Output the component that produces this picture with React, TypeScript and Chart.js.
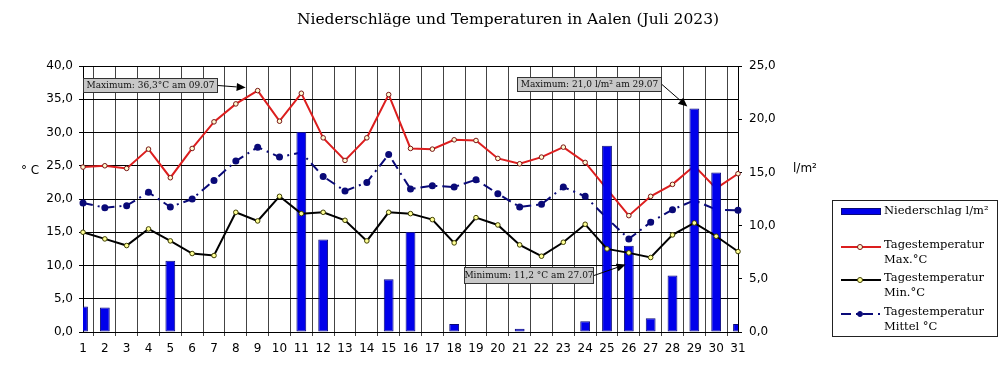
import React, { useEffect, useRef } from 'react';
import { Chart, registerables } from 'chart.js';

Chart.register(...registerables);

const days = ['1','2','3','4','5','6','7','8','9','10','11','12','13','14','15','16','17','18','19','20','21','22','23','24','25','26','27','28','29','30','31'];

const precipitation = [2.4, 2.3, 0, 0, 6.7, 0, 0, 0, 0, 0, 18.8, 8.7, 0, 0, 4.95, 9.4, 0, 0.75, 0, 0, 0.3, 0, 0, 1.0, 17.5, 8.1, 1.3, 5.3, 21.0, 15.0, 0.75];

const maxTemp = [24.8, 25.0, 24.6, 27.5, 23.2, 27.6, 31.6, 34.3, 36.3, 31.7, 35.9, 29.2, 25.8, 29.2, 35.7, 27.6, 27.5, 28.9, 28.8, 26.1, 25.3, 26.3, 27.8, 25.5, 21.5, 17.5, 20.4, 22.2, 25.0, 21.6, 23.8];

const minTemp = [15.0, 14.0, 13.0, 15.5, 13.7, 11.8, 11.5, 18.0, 16.7, 20.4, 17.8, 18.0, 16.8, 13.7, 18.0, 17.8, 16.9, 13.4, 17.2, 16.1, 13.1, 11.4, 13.5, 16.2, 12.5, 11.9, 11.2, 14.6, 16.4, 14.4, 12.1];

const meanTemp = [19.4, 18.7, 19.0, 21.0, 18.8, 20.0, 22.8, 25.7, 27.8, 26.3, 27.0, 23.4, 21.2, 22.5, 26.7, 21.5, 22.0, 21.8, 22.9, 20.8, 18.8, 19.2, 21.8, 20.4, 17.1, 14.0, 16.5, 18.4, 19.8, 18.4, 18.3];

const title = 'Niederschläge und Temperaturen in Aalen (Juli 2023)';
const leftAxisTitle = '° C';
const rightAxisTitle = 'l/m²';
const legendLabels = [
  ['Niederschlag l/m²'],
  ['Tagestemperatur', 'Max.°C'],
  ['Tagestemperatur', 'Min.°C'],
  ['Tagestemperatur', 'Mittel °C'],
];
const annMaxTemp = 'Maximum: 36,3°C am 09.07';
const annMaxRain = 'Maximum: 21,0 l/m² am 29.07';
const annMinTemp = 'Minimum: 11,2 °C am 27.07';

const SANS = '"DejaVu Sans", sans-serif';
const SERIF = '"DejaVu Serif", serif';

const RED = 'rgb(220,30,30)';
const NAVY = 'rgb(10,10,120)';
const BLUE = 'rgb(0,0,235)';
const MEAN_DASH = [10, 5, 2, 5];

function drawArrow(ctx: CanvasRenderingContext2D, x1: number, y1: number, x2: number, y2: number) {
  const ang = Math.atan2(y2 - y1, x2 - x1);
  const hl = 9, hw = 4;
  ctx.save();
  ctx.strokeStyle = '#000';
  ctx.fillStyle = '#000';
  ctx.lineWidth = 1;
  ctx.beginPath();
  ctx.moveTo(x1, y1);
  ctx.lineTo(x2 - hl * Math.cos(ang), y2 - hl * Math.sin(ang));
  ctx.stroke();
  ctx.beginPath();
  ctx.moveTo(x2, y2);
  ctx.lineTo(x2 - hl * Math.cos(ang) + hw * Math.sin(ang), y2 - hl * Math.sin(ang) - hw * Math.cos(ang));
  ctx.lineTo(x2 - hl * Math.cos(ang) - hw * Math.sin(ang), y2 - hl * Math.sin(ang) + hw * Math.cos(ang));
  ctx.closePath();
  ctx.fill();
  ctx.restore();
}

function drawBox(ctx: CanvasRenderingContext2D, x: number, y: number, w: number, h: number, text: string) {
  ctx.save();
  ctx.fillStyle = 'rgb(200,200,200)';
  ctx.fillRect(x, y, w, h);
  ctx.strokeStyle = '#333';
  ctx.lineWidth = 1;
  ctx.strokeRect(x + 0.5, y + 0.5, w - 1, h - 1);
  ctx.fillStyle = '#111';
  ctx.font = '9px ' + SERIF;
  ctx.textAlign = 'center';
  ctx.textBaseline = 'middle';
  ctx.fillText(text, x + w / 2, y + h / 2 + 0.5);
  ctx.restore();
}

const decorPlugin = {
  id: 'decor',
  afterDatasetsDraw(chart: any) {
    const ctx: CanvasRenderingContext2D = chart.ctx;
    const area = chart.chartArea;
    const xs = chart.scales.x;
    const yT = chart.scales.y;
    const yR = chart.scales.y1;

    const b1 = { x: area.left, y: area.top + 12, w: 135, h: 15 };
    drawBox(ctx, b1.x, b1.y, b1.w, b1.h, annMaxTemp);
    drawArrow(ctx, b1.x + b1.w, b1.y + b1.h / 2, xs.getPixelForValue(8) - 12, yT.getPixelForValue(maxTemp[8]) - 3);

    const b2 = { x: 517, y: area.top + 11, w: 145, h: 15 };
    drawBox(ctx, b2.x, b2.y, b2.w, b2.h, annMaxRain);
    drawArrow(ctx, b2.x + b2.w, b2.y + b2.h / 2, xs.getPixelForValue(28) - 7, yR.getPixelForValue(precipitation[28]) - 2);

    const b3 = { x: 464, y: 267, w: 130, h: 17 };
    drawBox(ctx, b3.x, b3.y, b3.w, b3.h, annMinTemp);
    drawArrow(ctx, b3.x + b3.w, b3.y + b3.h / 2, xs.getPixelForValue(26) - 25, yT.getPixelForValue(minTemp[26]) + 7);
  },
  afterDraw(chart: any) {
    const ctx: CanvasRenderingContext2D = chart.ctx;
    ctx.save();
    ctx.fillStyle = '#000';
    ctx.font = '15.5px ' + SERIF;
    ctx.textAlign = 'center';
    ctx.textBaseline = 'middle';
    ctx.fillText(title, 508, 20);

    ctx.font = '12px ' + SANS;
    ctx.textAlign = 'left';
    ctx.fillText(leftAxisTitle, 21, 171);
    ctx.fillText(rightAxisTitle, 793, 169);

    const lx = 832, ly = 200, lw = 166, lh = 137;
    ctx.strokeStyle = '#222';
    ctx.lineWidth = 1;
    ctx.strokeRect(lx + 0.5, ly + 0.5, lw - 1, lh - 1);

    ctx.font = '11.5px ' + SERIF;
    ctx.textBaseline = 'middle';
    const sx1 = 841, sx2 = 881, tx = 884;

    ctx.fillStyle = BLUE;
    ctx.fillRect(sx1, 209, sx2 - sx1, 5);
    ctx.strokeStyle = NAVY;
    ctx.strokeRect(sx1 + 0.5, 208.5, sx2 - sx1 - 1, 6);
    ctx.fillStyle = '#000';
    ctx.fillText(legendLabels[0][0], tx, 211);

    const rows = [
      { y: 247, color: RED, dash: [] as number[], fill: 'rgb(255,250,210)', border: 'rgb(120,20,20)', labels: legendLabels[1] },
      { y: 280, color: '#000', dash: [] as number[], fill: 'rgb(255,255,150)', border: 'rgb(60,60,0)', labels: legendLabels[2] },
      { y: 314, color: NAVY, dash: MEAN_DASH, fill: NAVY, border: NAVY, labels: legendLabels[3] },
    ];
    rows.forEach((r) => {
      ctx.save();
      ctx.strokeStyle = r.color;
      ctx.lineWidth = 2;
      ctx.setLineDash(r.dash);
      ctx.beginPath();
      ctx.moveTo(sx1, r.y);
      ctx.lineTo(sx2, r.y);
      ctx.stroke();
      ctx.setLineDash([]);
      ctx.fillStyle = r.fill;
      ctx.strokeStyle = r.border;
      ctx.lineWidth = 1;
      ctx.beginPath();
      ctx.arc(860, r.y, 2.5, 0, Math.PI * 2);
      ctx.fill();
      ctx.stroke();
      ctx.restore();
      ctx.fillStyle = '#000';
      ctx.fillText(r.labels[0], tx, r.y - 2);
      ctx.fillText(r.labels[1], tx, r.y + 13);
    });
    ctx.restore();
  },
};

export default function App() {
  const ref = useRef<HTMLCanvasElement | null>(null);
  useEffect(() => {
    document.body.style.margin = '0';
    const canvas = ref.current!;
    const chart = new Chart(canvas, {
      type: 'bar',
      data: {
        labels: days,
        datasets: [
          {
            type: 'line',
            label: 'Tagestemperatur Max.°C',
            data: maxTemp,
            yAxisID: 'y',
            borderColor: RED,
            borderWidth: 2,
            pointRadius: 2.3,
            pointBackgroundColor: 'rgb(255,250,210)',
            pointBorderColor: 'rgb(120,20,20)',
            pointBorderWidth: 1,
            tension: 0,
            order: 4,
          },
          {
            type: 'line',
            label: 'Tagestemperatur Mittel °C',
            data: meanTemp,
            yAxisID: 'y',
            borderColor: NAVY,
            borderWidth: 2,
            borderDash: MEAN_DASH,
            pointRadius: 2.5,
            pointBackgroundColor: NAVY,
            pointBorderColor: NAVY,
            tension: 0,
            order: 3,
          },
          {
            type: 'bar',
            label: 'Niederschlag l/m²',
            data: precipitation,
            yAxisID: 'y1',
            backgroundColor: BLUE,
            borderColor: NAVY,
            borderWidth: 1,
            borderSkipped: false,
            barPercentage: 0.45,
            categoryPercentage: 1,
            order: 2,
          },
          {
            type: 'line',
            label: 'Tagestemperatur Min.°C',
            data: minTemp,
            yAxisID: 'y',
            borderColor: '#000',
            borderWidth: 2,
            pointRadius: 2.3,
            pointBackgroundColor: 'rgb(255,255,150)',
            pointBorderColor: 'rgb(60,60,0)',
            pointBorderWidth: 1,
            tension: 0,
            order: 1,
          },
        ],
      },
      options: {
        responsive: false,
        animation: false,
        layout: { padding: { top: 66, left: 0, right: 0, bottom: 0 } },
        plugins: { legend: { display: false }, title: { display: false }, tooltip: { enabled: false } },
        scales: {
          x: {
            type: 'category',
            offset: false,
            grid: { color: '#444', lineWidth: 1, tickLength: 4, drawTicks: true },
            border: { color: '#000' },
            ticks: { color: '#000', font: { family: SANS, size: 12 }, padding: 6, maxRotation: 0, autoSkip: false },
            afterFit: (s: any) => { s.height = 47; },
          },
          y: {
            position: 'left',
            min: 0,
            max: 40,
            grid: { color: '#000', lineWidth: 1, tickLength: 4 },
            border: { color: '#000' },
            ticks: {
              stepSize: 5,
              color: '#000',
              padding: 6,
              font: { family: SANS, size: 12 },
              callback: (v: any) => Number(v).toFixed(1).replace('.', ','),
            },
            afterFit: (s: any) => { s.width = 83; },
          },
          y1: {
            position: 'right',
            min: 0,
            max: 25,
            grid: { drawOnChartArea: false, color: '#000', tickLength: 4 },
            border: { color: '#000' },
            ticks: {
              stepSize: 5,
              color: '#000',
              padding: 7,
              font: { family: SANS, size: 12 },
              callback: (v: any) => Number(v).toFixed(1).replace('.', ','),
            },
            afterFit: (s: any) => { s.width = 262; },
          },
        },
      },
      plugins: [decorPlugin],
    });
    return () => chart.destroy();
  }, []);
  return (
    <div style={{ width: 1000, height: 379, background: '#fff' }}>
      <canvas ref={ref} width={1000} height={379} style={{ display: 'block' }} />
    </div>
  );
}
